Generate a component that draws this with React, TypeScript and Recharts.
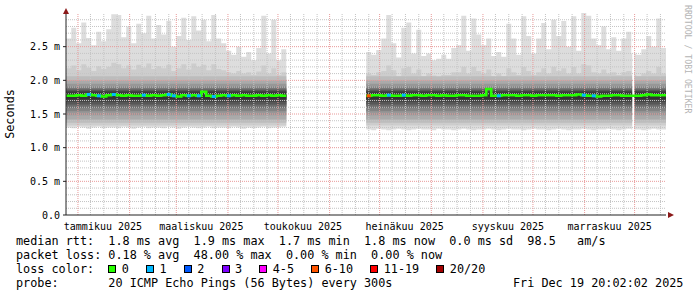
import React from 'react';
import { ComposedChart, Area, Line, Scatter, XAxis, YAxis, ReferenceLine } from 'recharts';

// rrd buckets of 3 days, day numbers counted from 1 Jan 2025
const STEP = 3;
const viewStart = -7.17; // 24 Dec 2024 20:02
const viewEnd = 352.83; // 19 Dec 2025 20:02

// first run of data, Dec 2024 - early May
const seg1Start = -7;
const max1 = [2.62, 2.78, 2.55, 2.86, 2.63, 2.52, 2.72, 2.58, 2.76, 2.98, 2.97, 2.64, 2.8, 2.55, 2.84, 2.7, 2.96, 2.62, 2.82, 2.68, 2.88, 2.5, 2.66, 2.93, 2.6, 2.95, 2.74, 2.9, 2.58, 2.97, 2.62, 2.55, 2.44, 2.38, 2.5, 2.35, 2.42, 2.3, 2.48, 2.96, 2.4, 2.9, 2.3, 2.46];
const p90_1 = [2.18, 2.22, 2.15, 2.24, 2.19, 2.14, 2.21, 2.17, 2.2, 2.26, 2.24, 2.18, 2.22, 2.16, 2.23, 2.19, 2.25, 2.17, 2.21, 2.18, 2.23, 2.14, 2.18, 2.24, 2.16, 2.25, 2.2, 2.23, 2.15, 2.24, 2.17, 2.15, 2.12, 2.1, 2.14, 2.1, 2.12, 2.08, 2.13, 2.22, 2.1, 2.18, 2.08, 2.12];
const med1 = [1.77, 1.77, 1.78, 1.77, 1.79, 1.78, 1.77, 1.76, 1.78, 1.79, 1.78, 1.77, 1.78, 1.77, 1.77, 1.78, 1.77, 1.78, 1.77, 1.78, 1.79, 1.77, 1.76, 1.78, 1.77, 1.78, 1.77, 1.83, 1.77, 1.76, 1.77, 1.78, 1.77, 1.78, 1.77, 1.78, 1.77, 1.77, 1.78, 1.77, 1.78, 1.77, 1.78, 1.77];
const min1 = [1.3, 1.29, 1.31, 1.3, 1.28, 1.3, 1.31, 1.29, 1.3, 1.3, 1.29, 1.31, 1.3, 1.28, 1.3, 1.31, 1.29, 1.3, 1.3, 1.29, 1.31, 1.3, 1.28, 1.3, 1.31, 1.3, 1.29, 1.3, 1.31, 1.29, 1.3, 1.3, 1.29, 1.31, 1.3, 1.28, 1.3, 1.29, 1.3, 1.31, 1.29, 1.3, 1.3, 1.31];
const loss1 = [0, 0, 0, 0, 1, 0, 1, 0, 0, 1, 0, 0, 0, 0, 0, 1, 0, 0, 0, 0, 1, 1, 0, 0, 1, 0, 1, 0, 0, 1, 0, 0, 1, 0, 0, 0, 0, 0, 0, 0, 0, 0, 0, 0];

// second run, late June - now
const seg2Start = 173;
const max2 = [2.42, 2.38, 2.45, 2.62, 2.97, 2.55, 2.34, 2.78, 2.86, 2.4, 2.75, 2.36, 2.4, 2.3, 2.32, 2.38, 2.32, 2.48, 2.52, 2.96, 2.44, 2.92, 2.68, 2.52, 2.62, 2.36, 2.42, 2.35, 2.84, 2.62, 2.38, 2.95, 2.66, 2.4, 2.62, 2.85, 2.46, 2.9, 2.66, 2.88, 2.5, 2.95, 2.44, 3.0, 2.96, 2.62, 2.52, 2.8, 2.46, 2.64, 2.44, 2.62, 2.72, 2.4, 2.38, 2.46, 2.66, 2.5, 2.92, 2.48];
const p90_2 = [2.1, 2.08, 2.12, 2.14, 2.22, 2.15, 2.06, 2.18, 2.2, 2.1, 2.16, 2.06, 2.1, 2.07, 2.05, 2.08, 2.08, 2.12, 2.12, 2.2, 2.1, 2.2, 2.14, 2.1, 2.16, 2.06, 2.1, 2.06, 2.18, 2.12, 2.08, 2.2, 2.14, 2.08, 2.12, 2.18, 2.1, 2.2, 2.14, 2.18, 2.1, 2.2, 2.1, 2.24, 2.22, 2.12, 2.1, 2.16, 2.1, 2.12, 2.08, 2.12, 2.14, 2.08, 2.06, 2.1, 2.14, 2.1, 2.2, 2.1];
const med2 = [1.77, 1.78, 1.78, 1.77, 1.78, 1.77, 1.77, 1.78, 1.77, 1.78, 1.78, 1.77, 1.78, 1.78, 1.77, 1.78, 1.77, 1.77, 1.78, 1.78, 1.77, 1.77, 1.77, 1.78, 1.87, 1.77, 1.77, 1.78, 1.78, 1.78, 1.77, 1.78, 1.78, 1.77, 1.78, 1.78, 1.78, 1.78, 1.77, 1.78, 1.78, 1.78, 1.79, 1.78, 1.77, 1.77, 1.76, 1.77, 1.77, 1.78, 1.78, 1.77, 1.77, 1.77, 1.77, 1.78, 1.79, 1.78, 1.78, 1.78];
const min2 = [1.27, 1.26, 1.28, 1.27, 1.26, 1.27, 1.28, 1.27, 1.26, 1.27, 1.28, 1.27, 1.27, 1.26, 1.28, 1.27, 1.27, 1.26, 1.27, 1.28, 1.27, 1.26, 1.27, 1.27, 1.28, 1.27, 1.26, 1.27, 1.28, 1.27, 1.27, 1.26, 1.27, 1.28, 1.27, 1.27, 1.26, 1.27, 1.28, 1.27, 1.26, 1.27, 1.27, 1.28, 1.27, 1.26, 1.27, 1.27, 1.28, 1.27, 1.26, 1.27, 1.28, 1.27, 1.27, 1.26, 1.27, 1.28, 1.27, 1.27];
const loss2 = [7, 0, 0, 0, 1, 0, 0, 1, 0, 0, 0, 0, 0, 0, 0, 0, 0, 0, 0, 0, 0, 0, 0, 0, 0, 0, 1, 0, 0, 0, 0, 0, 0, 0, 0, 0, 0, 0, 0, 0, 0, 0, 0, 1, 0, 1, 0, 0, 0, 0, 0, 0, 0, 0, 0, 0, 0, 0, 0, 0];

// short outage end of November
const outageDay = 333.2;

// inner smoke bands (pings sorted), outer -> inner
const p10Lo = 1.33;
const innerLo = [1.37, 1.42, 1.48, 1.54, 1.59, 1.64, 1.68, 1.72];
const innerHi = [2.06, 2.0, 1.95, 1.91, 1.88, 1.86, 1.84, 1.82];
const smokeColors = ['#dddddd', '#cdcdcd', '#bcbcbc', '#aaaaaa', '#979797', '#828282', '#6c6c6c', '#575757', '#444444', '#333333'];

// axes
const yTicks = [0, 0.5, 1, 1.5, 2, 2.5];
const yMinor = [0.1, 0.2, 0.3, 0.4, 0.6, 0.7, 0.8, 0.9, 1.1, 1.2, 1.3, 1.4, 1.6, 1.7, 1.8, 1.9, 2.1, 2.2, 2.3, 2.4, 2.6, 2.7, 2.8, 2.9];
const monthDays = [0, 31, 59, 90, 120, 151, 181, 212, 243, 273, 304, 334];
const weekDays = [7.5, 15.5, 23.5, 38.5, 46.5, 54.5, 66.5, 74.5, 82.5, 97.5, 105.5, 113.5, 127.5, 135.5, 143.5, 158.5, 166.5, 174.5, 188.5, 196.5, 204.5, 219.5, 227.5, 235.5, 250.5, 258.5, 266.5, 280.5, 288.5, 296.5, 311.5, 319.5, 327.5, 341.5, 349.5];
const labelDays = [15, 74, 135, 196, 258, 319];
const labelText = ['tammikuu 2025', 'maaliskuu 2025', 'toukokuu 2025', 'heinäkuu 2025', 'syyskuu 2025', 'marraskuu 2025'];

// legend
const lossLabels = ['0', '1', '2', '3', '4-5', '6-10', '11-19', '20/20'];
const lossColors = ['#26ff00', '#00b8ff', '#0059ff', '#7e00ff', '#ff00ff', '#ff5500', '#ff0000', '#a10000'];
const rttLine = 'median rtt:  1.8 ms avg  1.9 ms max  1.7 ms min  1.8 ms now  0.0 ms sd  98.5   am/s';
const lossLine = 'packet loss: 0.18 % avg  48.00 % max  0.00 % min  0.00 % now';
const probeLine = 'probe:       20 ICMP Echo Pings (56 Bytes) every 300s';
const stamp = 'Fri Dec 19 20:02:02 2025';

const lossIndex = (n: number) => (n <= 3 ? n : n <= 5 ? 4 : n <= 10 ? 5 : n < 20 ? 6 : 7);

const segments = [
  { start: seg1Start, max: max1, p90: p90_1, med: med1, min: min1, loss: loss1 },
  { start: seg2Start, max: max2, p90: p90_2, med: med2, min: min2, loss: loss2 },
];

const rows: any[] = [];
const lossPts: any[] = [];
segments.forEach((s, si) => {
  const n = s.max.length;
  for (let i = 0; i <= n; i++) {
    const k = Math.min(i, n - 1);
    const row: any = { day: s.start + i * STEP, med: s.med[k] };
    row.b0 = [s.min[k], s.max[k]];
    row.b1 = [p10Lo, s.p90[k]];
    innerLo.forEach((lo, j) => {
      row['b' + (j + 2)] = [lo, innerHi[j]];
    });
    rows.push(row);
    if (i < n && s.loss[i] > 0) {
      lossPts.push({ day: s.start + i * STEP + STEP / 2, med: s.med[i], loss: s.loss[i] });
    }
  }
  if (si < segments.length - 1) rows.push({ day: s.start + n * STEP + 1 });
});

const mono = "'DejaVu Sans Mono', monospace";

const LossMark = (props: any) => {
  const { cx, cy, payload } = props;
  if (cx == null || cy == null) return null;
  return <rect x={cx - 2} y={cy - 1.5} width={4} height={3} fill={lossColors[lossIndex(payload.loss)]} />;
};

export default function App() {
  return (
    <div style={{ position: 'absolute', left: 0, top: 0, width: 697, height: 297, background: '#fff', overflow: 'hidden' }}>
      <ComposedChart width={697} height={297} data={rows} margin={{ top: 13, right: 31, bottom: 0, left: 0 }}>
        <XAxis
          type="number"
          dataKey="day"
          domain={[viewStart, viewEnd]}
          allowDataOverflow
          ticks={labelDays}
          interval={0}
          tickFormatter={(v: number) => labelText[labelDays.indexOf(v)]}
          tickLine={false}
          tickMargin={2}
          height={82}
          axisLine={{ stroke: '#222' }}
          tick={{ fontFamily: mono, fontSize: 10, fill: '#000' }}
        />
        <YAxis
          type="number"
          domain={[0, 3]}
          allowDataOverflow
          ticks={yTicks}
          interval={0}
          tickFormatter={(v: number) => (v === 0 ? '0.0' : v.toFixed(1) + ' m')}
          width={66}
          tickSize={3}
          tickMargin={3}
          tickLine={{ stroke: '#222' }}
          axisLine={{ stroke: '#222' }}
          tick={{ fontFamily: mono, fontSize: 10, fill: '#000' }}
        />
        {smokeColors.map((c, j) => (
          <Area
            key={'b' + j}
            dataKey={'b' + j}
            type="stepAfter"
            fill={c}
            fillOpacity={1}
            stroke="none"
            isAnimationActive={false}
            dot={false}
            activeDot={false}
          />
        ))}
        <ReferenceLine x={outageDay} stroke="#fff" strokeWidth={2} />
        {yMinor.map((v) => (
          <ReferenceLine key={'ym' + v} y={v} stroke="#c4c4c4" strokeDasharray="1 1" />
        ))}
        {weekDays.map((v) => (
          <ReferenceLine key={'xm' + v} x={v} stroke="#c4c4c4" strokeDasharray="1 1" />
        ))}
        {yTicks.slice(1).map((v) => (
          <ReferenceLine key={'yM' + v} y={v} stroke="#e89a9a" strokeDasharray="1 1" />
        ))}
        {monthDays.map((v) => (
          <ReferenceLine key={'xM' + v} x={v} stroke="#e89a9a" strokeDasharray="1 1" />
        ))}
        <Line
          dataKey="med"
          type="stepAfter"
          stroke={lossColors[0]}
          strokeWidth={2.5}
          dot={false}
          activeDot={false}
          isAnimationActive={false}
        />
        <Scatter data={lossPts} dataKey="med" shape={<LossMark />} isAnimationActive={false} />
      </ComposedChart>
      <svg width={697} height={297} style={{ position: 'absolute', left: 0, top: 0, pointerEvents: 'none' }}>
        <polygon points="66,8 63,14 69,14" fill="#8b1a1a" />
        <polygon points="674,215 668,212 668,218" fill="#8b1a1a" />
        <text x={14} y={114} transform="rotate(-90 14 114)" textAnchor="middle" fontFamily={mono} fontSize={11.8} fill="#000">
          Seconds
        </text>
        <text x={685} y={5} transform="rotate(90 685 5)" fontFamily={mono} fontSize={8.2} fill="#b4b4b4">
          RRDTOOL / TOBI OETIKER
        </text>
      </svg>
      <div style={{ position: 'absolute', left: 16, top: 234, fontFamily: mono, fontSize: 11.8, lineHeight: '14px', whiteSpace: 'pre', color: '#000' }}>
        <div>{rttLine}</div>
        <div>{lossLine}</div>
        <div>
          {'loss color:  '}
          {lossLabels.map((l, i) => (
            <span key={l}>
              <span style={{ display: 'inline-block', width: 6, height: 6, border: '1px solid #000', background: lossColors[i], marginRight: 5.5 }} />
              <span style={{ marginRight: 2.9 }}>{l}</span>
              {'  '}
            </span>
          ))}
        </div>
        <div>{probeLine}</div>
      </div>
      <div style={{ position: 'absolute', left: 513, top: 276, fontFamily: mono, fontSize: 11.8, lineHeight: '14px', whiteSpace: 'pre', color: '#000' }}>
        {stamp}
      </div>
    </div>
  );
}
